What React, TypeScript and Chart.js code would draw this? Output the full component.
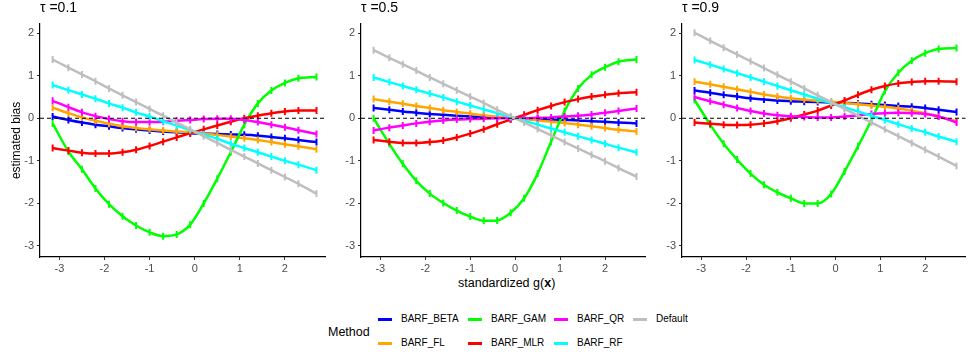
import React, { useEffect, useRef } from "react";
import { Chart, registerables } from "chart.js";
Chart.register(...registerables);

const FONT = "'Liberation Sans', Arial, sans-serif";
Chart.defaults.font.family = FONT;

const xGrid = [-3.15, -2.8, -2.5, -2.2, -1.9, -1.6, -1.3, -1.0, -0.7, -0.4, -0.1, 0.2, 0.5, 0.8, 1.1, 1.4, 1.7, 2.0, 2.3, 2.7];
const methods = ["BARF_BETA", "BARF_FL", "BARF_GAM", "BARF_MLR", "BARF_QR", "BARF_RF", "Default"];
const methodColors = ["#0000FF", "#FFA500", "#00FF00", "#FF0000", "#FF00FF", "#00FFFF", "#BEBEBE"];
const tauLabels = ["τ =0.1", "τ =0.5", "τ =0.9"];
const xTicks = [-3, -2, -1, 0, 1, 2];
const yTicks = [-3, -2, -1, 0, 1, 2];

// tau = 0.1
const beta1 = [0.04, -0.04, -0.10, -0.15, -0.19, -0.23, -0.26, -0.29, -0.31, -0.33, -0.35, -0.36, -0.37, -0.38, -0.39, -0.41, -0.44, -0.47, -0.51, -0.56];
const fl1 = [0.25, 0.12, 0.02, -0.06, -0.13, -0.19, -0.23, -0.26, -0.29, -0.31, -0.33, -0.36, -0.39, -0.43, -0.47, -0.51, -0.56, -0.61, -0.66, -0.73];
const gam1 = [-0.12, -0.78, -1.2, -1.65, -2.02, -2.3, -2.52, -2.68, -2.77, -2.73, -2.5, -2.0, -1.42, -0.8, -0.15, 0.35, 0.65, 0.83, 0.94, 0.97];
const mlr1 = [-0.70, -0.76, -0.81, -0.83, -0.83, -0.80, -0.74, -0.65, -0.55, -0.45, -0.35, -0.26, -0.17, -0.08, 0.0, 0.06, 0.12, 0.16, 0.18, 0.18];
const qr1 = [0.41, 0.26, 0.14, 0.05, -0.02, -0.07, -0.09, -0.09, -0.08, -0.06, -0.04, -0.02, -0.01, -0.01, -0.04, -0.09, -0.15, -0.21, -0.28, -0.37];
const rf1 = [0.78, 0.66, 0.56, 0.46, 0.35, 0.25, 0.14, 0.04, -0.07, -0.17, -0.28, -0.38, -0.48, -0.60, -0.70, -0.80, -0.90, -1.00, -1.09, -1.22];
const def1 = [1.38, 1.19, 1.03, 0.87, 0.70, 0.54, 0.38, 0.22, 0.06, -0.10, -0.26, -0.42, -0.58, -0.74, -0.90, -1.06, -1.22, -1.38, -1.54, -1.77];

// tau = 0.5
const beta5 = [0.24, 0.20, 0.16, 0.13, 0.10, 0.08, 0.06, 0.04, 0.03, 0.02, 0.0, -0.01, -0.02, -0.03, -0.04, -0.05, -0.07, -0.08, -0.10, -0.12];
const fl5 = [0.45, 0.39, 0.34, 0.29, 0.24, 0.19, 0.15, 0.11, 0.07, 0.04, 0.01, -0.02, -0.05, -0.08, -0.11, -0.15, -0.19, -0.23, -0.27, -0.31];
const gam5 = [0.0, -0.6, -1.07, -1.47, -1.77, -1.99, -2.17, -2.31, -2.41, -2.40, -2.22, -1.88, -1.3, -0.55, 0.17, 0.7, 1.02, 1.2, 1.33, 1.38];
const mlr5 = [-0.51, -0.55, -0.58, -0.58, -0.56, -0.52, -0.45, -0.36, -0.26, -0.14, -0.03, 0.08, 0.19, 0.29, 0.38, 0.45, 0.51, 0.55, 0.59, 0.61];
const qr5 = [-0.29, -0.22, -0.17, -0.12, -0.08, -0.05, -0.03, -0.02, -0.01, 0.0, 0.0, 0.0, 0.01, 0.02, 0.04, 0.06, 0.09, 0.13, 0.17, 0.23];
const rf5 = [0.96, 0.85, 0.76, 0.67, 0.58, 0.49, 0.39, 0.30, 0.21, 0.12, 0.03, -0.06, -0.15, -0.24, -0.33, -0.42, -0.51, -0.60, -0.69, -0.80];
const def5 = [1.60, 1.42, 1.27, 1.12, 0.96, 0.81, 0.66, 0.51, 0.36, 0.20, 0.05, -0.10, -0.25, -0.40, -0.56, -0.71, -0.86, -1.01, -1.17, -1.37];

// tau = 0.9
const beta9 = [0.65, 0.60, 0.55, 0.51, 0.47, 0.44, 0.42, 0.40, 0.39, 0.38, 0.37, 0.36, 0.35, 0.33, 0.31, 0.29, 0.27, 0.24, 0.20, 0.15];
const fl9 = [0.86, 0.80, 0.74, 0.68, 0.62, 0.56, 0.51, 0.47, 0.44, 0.41, 0.39, 0.36, 0.33, 0.30, 0.27, 0.23, 0.18, 0.12, 0.04, -0.07];
const gam9 = [0.43, -0.15, -0.6, -0.97, -1.3, -1.56, -1.74, -1.88, -2.0, -2.0, -1.78, -1.25, -0.66, -0.04, 0.64, 1.07, 1.35, 1.53, 1.63, 1.65];
const mlr9 = [-0.10, -0.13, -0.15, -0.16, -0.15, -0.12, -0.07, 0.0, 0.09, 0.18, 0.30, 0.42, 0.55, 0.67, 0.76, 0.82, 0.85, 0.87, 0.87, 0.86];
const qr9 = [0.50, 0.40, 0.32, 0.24, 0.17, 0.11, 0.07, 0.05, 0.03, 0.02, 0.02, 0.04, 0.07, 0.10, 0.12, 0.13, 0.12, 0.10, 0.04, -0.10];
const rf9 = [1.37, 1.26, 1.16, 1.06, 0.96, 0.86, 0.76, 0.66, 0.56, 0.46, 0.36, 0.26, 0.16, 0.06, -0.04, -0.14, -0.24, -0.33, -0.43, -0.55];
const def9 = [2.01, 1.82, 1.66, 1.50, 1.34, 1.18, 1.02, 0.86, 0.70, 0.54, 0.38, 0.22, 0.06, -0.10, -0.26, -0.42, -0.58, -0.74, -0.90, -1.12];

const panelSeries = [
  [beta1, fl1, gam1, mlr1, qr1, rf1, def1],
  [beta5, fl5, gam5, mlr5, qr5, rf5, def5],
  [beta9, fl9, gam9, mlr9, qr9, rf9, def9],
];

const zeroLine = {
  id: "zeroLine",
  afterDatasetsDraw(chart: any) {
    const { ctx, chartArea, scales } = chart;
    const py = scales.y.getPixelForValue(0);
    ctx.save();
    ctx.setLineDash([4, 3]);
    ctx.strokeStyle = "#000";
    ctx.lineWidth = 1.1;
    ctx.beginPath();
    ctx.moveTo(chartArea.left, py);
    ctx.lineTo(chartArea.right, py);
    ctx.stroke();
    ctx.restore();
  },
};

const CANVAS_H = 275;

function Panel({ idx, left, width, yWidth, showYTitle }: { idx: number; left: number; width: number; yWidth: number; showYTitle: boolean }) {
  const ref = useRef<HTMLCanvasElement | null>(null);
  useEffect(() => {
    if (!ref.current) return;
    const series = panelSeries[idx];
    const datasets = methods
      .map((m, i) => ({
        label: m,
        data: xGrid.map((x, j) => ({ x, y: series[i][j] })),
        borderColor: methodColors[i],
        backgroundColor: methodColors[i],
        borderWidth: 2.5,
        cubicInterpolationMode: "monotone" as const,
        pointStyle: "line" as const,
        pointRotation: 90,
        pointRadius: 3.5,
        pointBorderWidth: 2,
        pointBorderColor: methodColors[i],
        pointHoverRadius: 0,
      }))
      .reverse();
    const chart = new Chart(ref.current, {
      type: "line",
      data: { datasets },
      options: {
        responsive: false,
        animation: false,
        events: [],
        layout: { padding: 0 },
        plugins: {
          legend: { display: false },
          tooltip: { enabled: false },
          title: {
            display: true,
            text: tauLabels[idx],
            align: "start",
            fullSize: false,
            color: "#000",
            font: { family: FONT, size: 14, weight: "normal" },
            padding: { top: 0, bottom: 7 },
          },
        },
        scales: {
          x: {
            type: "linear",
            min: -3.43,
            max: 2.9,
            afterBuildTicks: (s: any) => {
              s.ticks = xTicks.map((v) => ({ value: v }));
            },
            afterFit: (s: any) => {
              s.height = CANVAS_H - 257;
            },
            grid: { drawOnChartArea: false, drawTicks: true, tickLength: 3, color: "#333" },
            border: { display: true, color: "#000", width: 1.2 },
            ticks: { color: "#4D4D4D", font: { family: FONT, size: 11 }, padding: 2, maxRotation: 0 },
          },
          y: {
            type: "linear",
            min: -3.26,
            max: 2.22,
            afterBuildTicks: (s: any) => {
              s.ticks = yTicks.map((v) => ({ value: v }));
            },
            afterFit: (s: any) => {
              s.width = yWidth;
            },
            grid: { drawOnChartArea: false, drawTicks: true, tickLength: 3, color: "#333" },
            border: { display: true, color: "#000", width: 1.2 },
            ticks: { color: "#4D4D4D", font: { family: FONT, size: 11 }, padding: 3 },
            title: {
              display: showYTitle,
              text: "estimated bias",
              color: "#000",
              font: { family: FONT, size: 12 },
              padding: { top: 9, bottom: 0 },
            },
          },
        },
      },
      plugins: [zeroLine],
    } as any);
    return () => chart.destroy();
  }, [idx, yWidth, showYTitle]);
  return (
    <canvas
      ref={ref}
      width={width}
      height={CANVAS_H}
      style={{ position: "absolute", left, top: 0, width, height: CANVAS_H }}
    />
  );
}

const legendCols = [
  { swatchX: 378, textX: 401 },
  { swatchX: 468, textX: 491 },
  { swatchX: 554, textX: 577 },
  { swatchX: 633, textX: 656 },
];
const legendRows = [319, 343];

export default function App() {
  return (
    <div
      style={{
        position: "fixed",
        left: 0,
        top: 0,
        width: 971,
        height: 356,
        background: "#fff",
        fontFamily: FONT,
        overflow: "hidden",
      }}
    >
      <Panel idx={0} left={0} width={331} yWidth={40} showYTitle={true} />
      <Panel idx={1} left={332} width={319} yWidth={29} showYTitle={false} />
      <Panel idx={2} left={652} width={319} yWidth={30} showYTitle={false} />
      <div style={{ position: "absolute", left: 458, top: 275, fontSize: 12.5, lineHeight: "16px", color: "#000", whiteSpace: "nowrap" }}>
        standardized g(<b>x</b>)
      </div>
      <div style={{ position: "absolute", left: 328, top: 324, fontSize: 12.5, lineHeight: "16px", color: "#000" }}>Method</div>
      {methods.map((m, i) => {
        const col = legendCols[Math.floor(i / 2)];
        const rowY = legendRows[i % 2];
        return (
          <React.Fragment key={m}>
            <div style={{ position: "absolute", left: col.swatchX, top: rowY - 1.5, width: 14, height: 3, background: methodColors[i] }} />
            <div style={{ position: "absolute", left: col.textX, top: rowY - 7, fontSize: 10, lineHeight: "14px", color: "#000", whiteSpace: "nowrap" }}>{m}</div>
          </React.Fragment>
        );
      })}
    </div>
  );
}
